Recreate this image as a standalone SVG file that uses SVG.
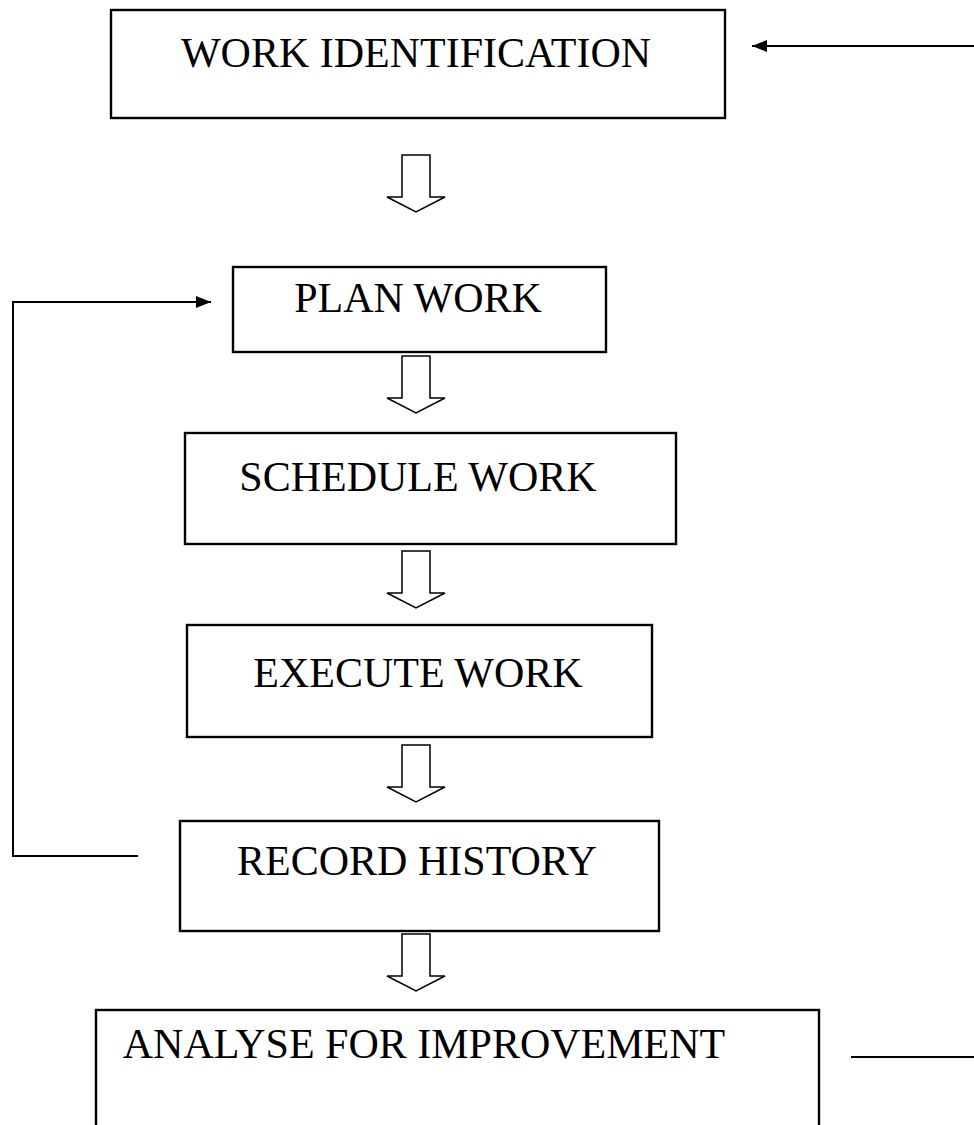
<svg xmlns="http://www.w3.org/2000/svg" width="974" height="1125" viewBox="0 0 974 1125">
<style>
.box{fill:#fff;stroke:#000;stroke-width:2.4}
.lbl{font-family:"Liberation Serif","Times New Roman",serif;font-size:42px;fill:#000;text-anchor:middle}
.blk{fill:#fff;stroke:#000;stroke-width:1.5;stroke-linejoin:miter}
.ln{fill:none;stroke:#000;stroke-width:2}
</style>
<defs>
<marker id="ah" viewBox="0 0 15 12" refX="15" refY="6" markerWidth="15" markerHeight="12" markerUnits="userSpaceOnUse" orient="auto">
<path d="M0,0 L15,6 L0,12 Z" fill="#000"/>
</marker>
<path id="blkarrow" class="blk" d="M-14,0 H14 V42 H29 L0,57 L-29,42 H-14 Z"/>
</defs>
<rect width="974" height="1125" fill="#fff"/>
<g id="connectors">
<line class="ln" x1="974" y1="46" x2="752" y2="46" marker-end="url(#ah)"/>
<path class="ln" d="M138,856 H13 V302 H211" marker-end="url(#ah)"/>
<line class="ln" x1="851" y1="1057" x2="974" y2="1057"/>
<use href="#blkarrow" x="416" y="155"/>
<use href="#blkarrow" x="416" y="356"/>
<use href="#blkarrow" x="416" y="551"/>
<use href="#blkarrow" x="416" y="745"/>
<use href="#blkarrow" x="416" y="934"/>
</g>
<g id="work-identification">
<rect class="box" x="111" y="10" width="614" height="108"/>
<text class="lbl" x="416" y="67">WORK IDENTIFICATION</text>
</g>
<g id="plan-work">
<rect class="box" x="233" y="267" width="373" height="85"/>
<text class="lbl" x="418" y="312">PLAN WORK</text>
</g>
<g id="schedule-work">
<rect class="box" x="185" y="433" width="491" height="111"/>
<text class="lbl" x="418" y="491">SCHEDULE WORK</text>
</g>
<g id="execute-work">
<rect class="box" x="187" y="625" width="465" height="112"/>
<text class="lbl" x="418" y="687">EXECUTE WORK</text>
</g>
<g id="record-history">
<rect class="box" x="180" y="821" width="479" height="110"/>
<text class="lbl" x="417" y="875">RECORD HISTORY</text>
</g>
<g id="analyse-for-improvement">
<rect class="box" x="96" y="1010" width="723" height="130"/>
<text class="lbl" x="424" y="1058">ANALYSE FOR IMPROVEMENT</text>
</g>
</svg>
